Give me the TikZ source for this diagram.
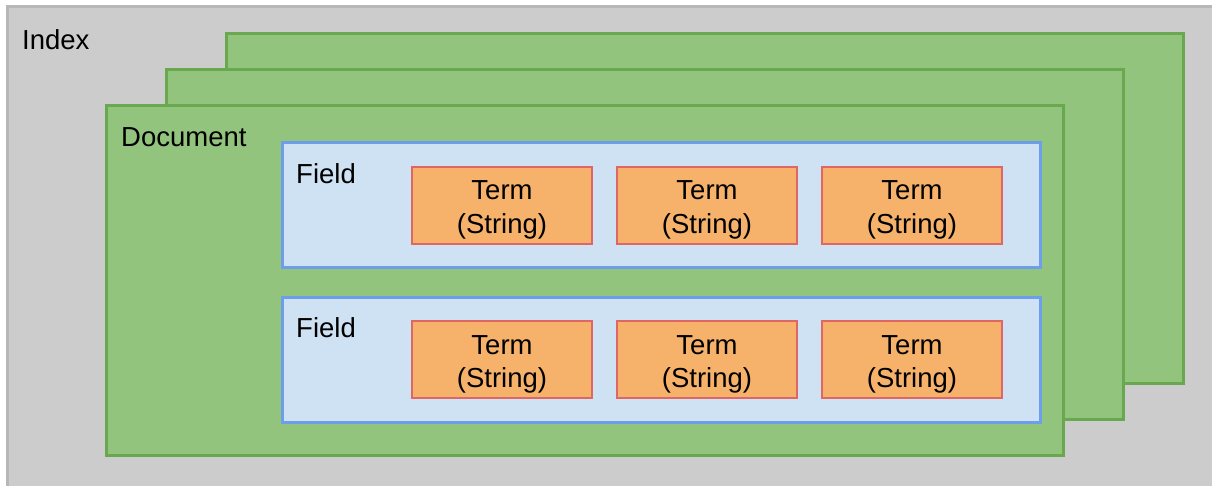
\documentclass[tikz,border=0pt]{standalone}
\usepackage{fontspec}
\setmainfont{Liberation Sans}
\definecolor{idxfill}{HTML}{CCCCCC}
\definecolor{idxline}{HTML}{B7B7B7}
\definecolor{docfill}{HTML}{93C47D}
\definecolor{docline}{HTML}{6AA84F}
\definecolor{fldfill}{HTML}{CFE2F3}
\definecolor{fldline}{HTML}{6D9EEB}
\definecolor{trmfill}{HTML}{F6B26B}
\definecolor{trmline}{HTML}{E06666}
\tikzset{
  box/.style={rectangle, inner sep=0pt, outer sep=0pt},
  docbox/.style={box, fill=docfill, draw=docline, line width=3pt, minimum width=957pt, minimum height=349pt},
  fldbox/.style={box, fill=fldfill, draw=fldline, line width=3pt, minimum width=758pt, minimum height=125pt},
  trmbox/.style={box, fill=trmfill, draw=trmline, line width=2.5pt, minimum width=180pt, minimum height=77pt},
  lbl/.style={inner sep=0pt, font=\fontsize{27.5}{32}\selectfont},
}
\begin{document}
\begin{tikzpicture}[x=1pt,y=-1pt]
\useasboundingbox (0,0) rectangle (1212,486);
\begin{scope}
\clip (0,0) rectangle (1212,486);
\node[box, fill=idxfill, draw=idxline, line width=3pt, minimum width=1210pt, minimum height=482pt, anchor=north west] (index) at (7,7) {};
\end{scope}
\node[lbl, anchor=base west] (indexlbl) at (22,50) {Index};
\node[docbox] (doc3) at (704.5,208.5) {};
\node[docbox] (doc2) at (644.5,244.5) {};
\node[docbox] (doc1) at (584.5,280.5) {};
\node[lbl, anchor=base west] (doclbl) at (121,147) {Document};
\node[fldbox] (f1) at (661,205.5) {};
\node[fldbox] (f2) at (661,359.5) {};
\node[lbl, anchor=base west] (f1lbl) at (296,183.5) {Field};
\node[lbl, anchor=base west] (f2lbl) at (296,337.5) {Field};
\foreach \i/\x in {1/502,2/707,3/912}{
  \node[trmbox] (t1\i) at (\x,205.5) {};
  \node[lbl, anchor=base] (t1\i a) at (\x,200) {Term};
  \node[lbl, anchor=base] (t1\i b) at (\x,233.5) {(String)};
  \node[trmbox] (t2\i) at (\x,359.5) {};
  \node[lbl, anchor=base] (t2\i a) at (\x,354) {Term};
  \node[lbl, anchor=base] (t2\i b) at (\x,387.5) {(String)};
}
\end{tikzpicture}
\end{document}
